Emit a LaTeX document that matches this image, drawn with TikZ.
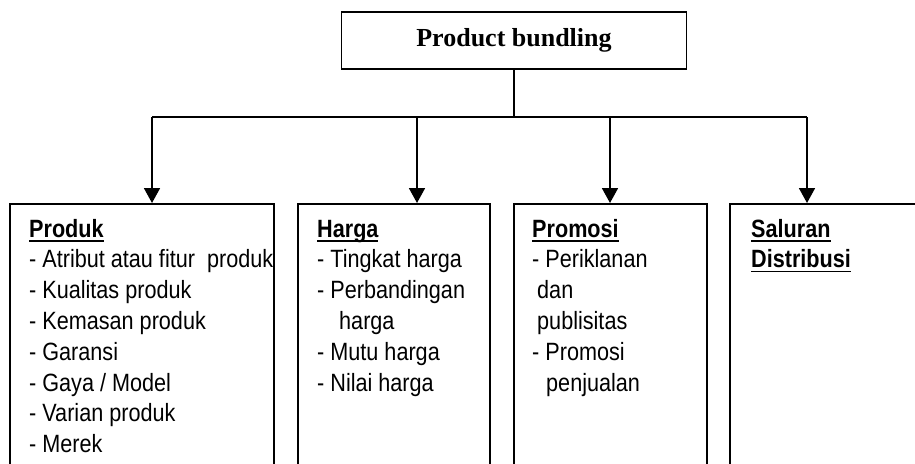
\documentclass[tikz,border=0pt]{standalone}
\usepackage{fontspec}
\setmainfont{Liberation Sans}[FakeStretch=0.865]
\newfontfamily\titlefont{Liberation Serif}
\usetikzlibrary{arrows.meta}
% bold heading with a heavy rule under it
\newcommand\hdul[1]{\leavevmode\sbox0{\bfseries #1}\rlap{\rule[-4.5pt]{\wd0}{1.8pt}}\usebox0}
\begin{document}
\begin{tikzpicture}[x=1pt,y=-1pt,
  wire/.style={line width=1.8pt},
  arr/.style={line width=1.8pt,-{Triangle[width=16pt,length=15pt]}},
  box/.style={draw,line width=1.8pt,anchor=north west,minimum height=320pt,inner sep=0pt},
  list/.style={anchor=base west,inner sep=0pt,font=\fontsize{25}{30.8}\selectfont},
  titlebox/.style={draw,line width=1.5pt,minimum width=345pt,minimum height=57pt,inner sep=0pt,
    font=\titlefont\fontsize{26}{30}\selectfont\bfseries}]
\useasboundingbox (0,0) rectangle (915,463);
\clip (0,0) rectangle (915,463);

% top node
\node[titlebox] (title) at (514,40.5) {Product bundling};

% the four category boxes (they run past the lower edge)
\node[box,minimum width=264pt] (produk) at (9,203) {};
\node[box,minimum width=192pt] (harga) at (297,203) {};
\node[box,minimum width=193pt] (promosi) at (513,203) {};
\node[box,minimum width=300pt] (saluran) at (729,203) {};

% box contents
\node[list] (produkText) at (29,237) {\parbox[t]{260pt}{\raggedright
  \hdul{Produk}\\
  - Atribut atau fitur \ produk\\
  - Kualitas produk\\
  - Kemasan produk\\
  - Garansi\\
  - Gaya / Model\\
  - Varian produk\\
  - Merek}};
\node[list] (hargaText) at (317,237) {\parbox[t]{170pt}{\raggedright
  \hdul{Harga}\\
  - Tingkat harga\\
  - Perbandingan\\
  \hspace*{22pt}harga\\
  - Mutu harga\\
  - Nilai harga}};
\node[list] (promosiText) at (532,237) {\parbox[t]{170pt}{\raggedright
  \hdul{Promosi}\\
  - Periklanan\\
  \hspace*{5pt}dan\\
  \hspace*{5pt}publisitas\\
  - Promosi\\
  \hspace*{14pt}penjualan}};
\node[list] (saluranText) at (751,237) {\parbox[t]{150pt}{\raggedright
  \hdul{Saluran}\\
  \hdul{Distribusi}}};

% distribution bus
\coordinate (busL) at (152,117);
\coordinate (busR) at (807,117);
\coordinate (busH) at (417,117);
\coordinate (busP) at (610,117);
\draw[wire] (title.south) -- (title.south |- busL);
\draw[wire] (busL) -- (busR);
\draw[arr] (busL) -- (busL |- produk.north);
\draw[arr] (busH) -- (busH |- harga.north);
\draw[arr] (busP) -- (busP |- promosi.north);
\draw[arr] (busR) -- (busR |- saluran.north);
\end{tikzpicture}
\end{document}
